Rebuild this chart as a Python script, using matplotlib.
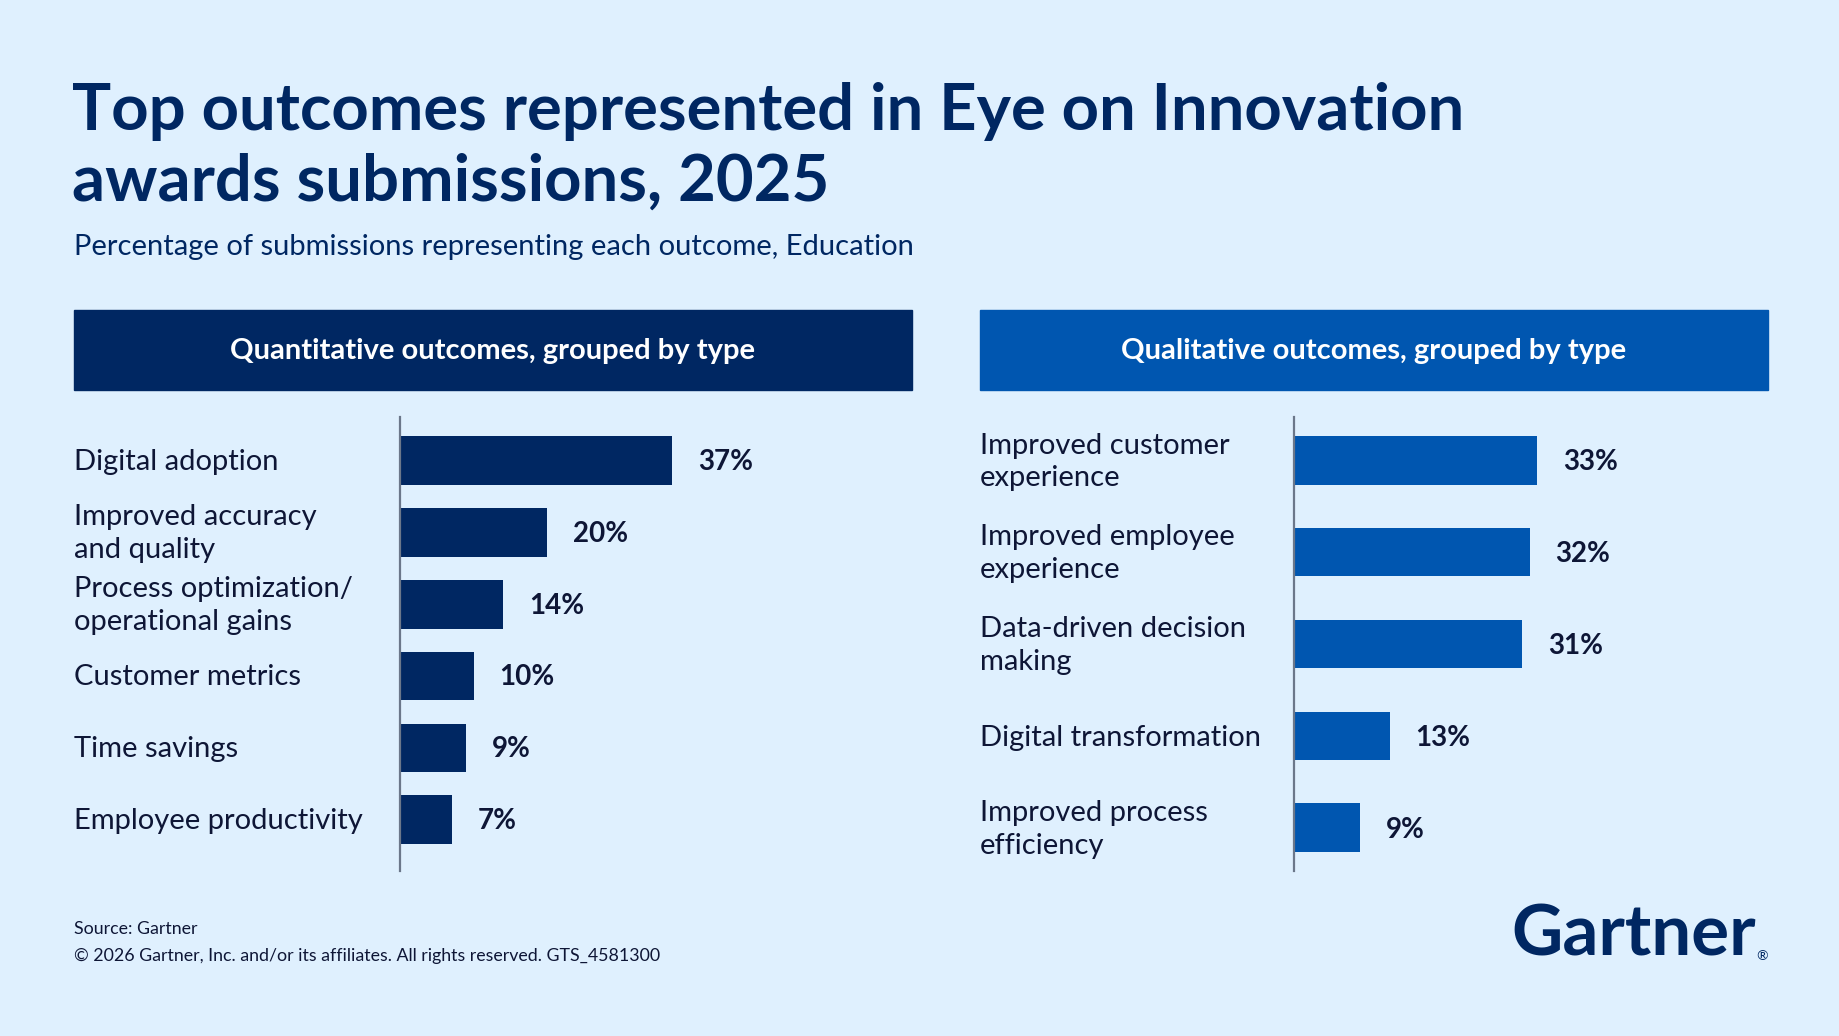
import matplotlib.pyplot as plt
import matplotlib.transforms as mtransforms

# data
quant_labels = ['Digital adoption', 'Improved accuracy\nand quality',
                'Process optimization/\noperational gains', 'Customer metrics',
                'Time savings', 'Employee productivity']
quant_values = [37, 20, 14, 10, 9, 7]
qual_labels = ['Improved customer\nexperience', 'Improved employee\nexperience',
               'Data-driven decision\nmaking', 'Digital transformation',
               'Improved process\nefficiency']
qual_values = [33, 32, 31, 13, 9]

title = 'Top outcomes represented in Eye on Innovation\nawards submissions, 2025'
subtitle = 'Percentage of submissions representing each outcome, Education'
quant_header = 'Quantitative outcomes, grouped by type'
qual_header = 'Qualitative outcomes, grouped by type'

BG = '#DFF0FE'
NAVY = '#002762'
BLUE = '#0056B0'
TXT = '#0E1636'
AXC = '#6B778A'

plt.rcParams['font.family'] = ['Lato', 'DejaVu Sans']

W, H = 1840, 1036
fig = plt.figure(figsize=(W/100, H/100), dpi=100, facecolor=BG)

def fx(x): return x/W
def fy(y): return 1 - y/H

# title block
fig.text(fx(72), fy(147), title, fontsize=47, fontweight='bold', color=NAVY,
         va='center', ha='left', linespacing=1.24)
fig.text(fx(74), fy(247), subtitle, fontsize=21, color=NAVY, va='center', ha='left')

# header boxes
for x0, x1, col, txt in [(74, 912, NAVY, quant_header), (980, 1768, BLUE, qual_header)]:
    fig.patches.append(plt.Rectangle((fx(x0), fy(390)), fx(x1-x0), (390-310)/H,
                                     transform=fig.transFigure, color=col, zorder=0))
    fig.text(fx((x0+x1)/2), fy(351), txt, fontsize=21, fontweight='bold', color='white',
             ha='center', va='center')

PXPCT = 7.36  # pixels per percentage point

def panel(x_axis, x_right, labels, values, color, label_x, pad_top, pad_bot, height):
    ax = fig.add_axes([fx(x_axis), fy(871), fx(x_right - x_axis), (871-417)/H])
    ax.set_facecolor('none')
    n = len(values)
    pos = list(range(n))
    ax.barh(pos, values, height=height, color=color, zorder=2)
    ax.set_xlim(0, (x_right - x_axis)/PXPCT)
    ax.set_ylim(n - 1 + pad_bot, -pad_top)
    for s in ['top', 'right', 'bottom']:
        ax.spines[s].set_visible(False)
    ax.spines['left'].set_color(AXC)
    ax.spines['left'].set_linewidth(1.6)
    ax.set_xticks([])
    ax.set_yticks([])
    trans = mtransforms.blended_transform_factory(ax.transAxes, ax.transData)
    lx = (label_x - x_axis)/(x_right - x_axis)
    for p, lab, v in zip(pos, labels, values):
        ax.text(lx, p + 0.02, lab, transform=trans, fontsize=21, color=TXT,
                ha='left', va='center', linespacing=1.33, clip_on=False)
        ax.text(v + 26/PXPCT, p + 0.02, f'{v}%', fontsize=20, fontweight='bold',
                color=TXT, ha='left', va='center')
    return ax

panel(400, 912, quant_labels, quant_values, NAVY, 74, 0.6, 0.71, 0.68)
panel(1294, 1768, qual_labels, qual_values, BLUE, 980, 0.47, 0.47, 0.53)

# footer
fig.text(fx(74), fy(929), 'Source: Gartner', fontsize=12.8, color=TXT, va='center')
fig.text(fx(74), fy(956), '\u00a9 2026 Gartner, Inc. and/or its affiliates. All rights reserved. GTS_4581300',
         fontsize=12.8, color=TXT, va='center')
fig.text(fx(1756), fy(935), 'Gartner', fontsize=51, fontweight='bold', color=NAVY,
         ha='right', va='center')
fig.text(fx(1768), fy(956), '\u00ae', fontsize=10, color=NAVY, ha='right', va='center')

fig.savefig('out.png', dpi=100, facecolor=BG)
